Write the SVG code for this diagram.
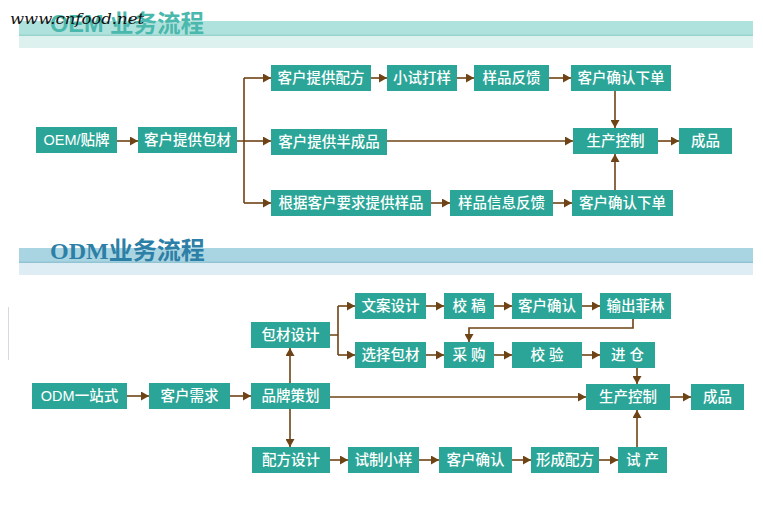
<svg xmlns="http://www.w3.org/2000/svg" width="763" height="506" viewBox="0 0 763 506">
<defs>
<marker id="ah" markerWidth="9" markerHeight="9" refX="8" refY="4.5" orient="auto" markerUnits="userSpaceOnUse">
<path d="M0,0 L8,4.5 L0,9 Z" fill="#6e4315"/>
</marker>
<style>
.n rect{fill:#2ba597;}
.n text{fill:#fff;font-family:"Liberation Sans","Noto Sans CJK SC",sans-serif;font-size:14.5px;font-weight:500;text-anchor:middle;}
.c path{fill:none;stroke:#6e4315;stroke-width:1.6;}
.a{marker-end:url(#ah);}
</style>
</defs>
<rect width="763" height="506" fill="#fff"/>
<line x1="8.5" y1="307" x2="8.5" y2="360" stroke="#d8d8e0" stroke-width="1"/>
<g id="header-oem">
<rect x="19" y="21" width="734" height="14" fill="#b0e2dd"/>
<rect x="19" y="34.5" width="734" height="1.5" fill="#98d3cc"/>
<rect x="19" y="36" width="734" height="12" fill="#ddf2ef"/>
<text x="50" y="32" font-family="Liberation Sans,'Noto Sans CJK SC',sans-serif" font-weight="bold" font-size="23.5" fill="#4bb8ad">OEM 业务流程</text>
<text x="10" y="24" font-family="DejaVu Serif,serif" font-style="italic" font-size="14" fill="#111" textLength="134" lengthAdjust="spacingAndGlyphs">www.cnfood.net</text>
</g>
<g id="header-odm">
<rect x="19" y="248" width="734" height="14" fill="#a9d4e1"/>
<rect x="19" y="261.5" width="734" height="1.5" fill="#93c4d4"/>
<rect x="19" y="263" width="734" height="12" fill="#deedf3"/>
<text x="50" y="259" font-family="Liberation Serif,'Noto Sans CJK SC',serif" font-weight="bold" font-size="24" fill="#2c7fa6">ODM业务流程</text>
</g>
<g class="c" id="connectors">
<path class="a" d="M116,141 H138"/>
<path d="M237,141 H244 M244,78 V203"/>
<path class="a" d="M244,78 H271"/>
<path class="a" d="M244,141 H271"/>
<path class="a" d="M244,203 H271"/>
<path class="a" d="M371,78 H387"/>
<path class="a" d="M457,78 H474"/>
<path class="a" d="M549,78 H571"/>
<path class="a" d="M615,91 V128"/>
<path class="a" d="M387,141 H573"/>
<path class="a" d="M658,141 H679"/>
<path class="a" d="M431,203 H450"/>
<path class="a" d="M553,203 H572"/>
<path class="a" d="M615,190 V154"/>
<path class="a" d="M127,396 H149"/>
<path class="a" d="M230,396 H251"/>
<path class="a" d="M290,383 V348"/>
<path class="a" d="M290,409 V447"/>
<path d="M330,335 H338 M338,306 V355"/>
<path class="a" d="M338,306 H355"/>
<path class="a" d="M338,355 H355"/>
<path class="a" d="M426,306 H444"/>
<path class="a" d="M494,306 H512"/>
<path class="a" d="M582,306 H600"/>
<path class="a" d="M633,319 V328 H469 V342"/>
<path class="a" d="M426,355 H444"/>
<path class="a" d="M494,355 H512"/>
<path class="a" d="M582,355 H600"/>
<path class="a" d="M637,368 V384"/>
<path class="a" d="M330,397 H586"/>
<path class="a" d="M670,397 H691"/>
<path class="a" d="M330,460 H348"/>
<path class="a" d="M419,460 H439"/>
<path class="a" d="M512,460 H531"/>
<path class="a" d="M599,460 H618"/>
<path class="a" d="M637,447 V410"/>
</g>
<g class="n" id="oem-tiepai"><rect x="36" y="127" width="81" height="26"/><text x="76.5" y="145">OEM/贴牌</text></g>
<g class="n" id="oem-baocai"><rect x="138" y="127" width="99" height="26"/><text x="187.5" y="145">客户提供包材</text></g>
<g class="n" id="oem-peifang"><rect x="271" y="65" width="100" height="26"/><text x="321" y="83">客户提供配方</text></g>
<g class="n" id="oem-banchengpin"><rect x="271" y="129" width="116" height="26"/><text x="329" y="147">客户提供半成品</text></g>
<g class="n" id="oem-yangpin"><rect x="271" y="190" width="160" height="26"/><text x="351" y="208">根据客户要求提供样品</text></g>
<g class="n" id="oem-xiaoshi"><rect x="387" y="65" width="70" height="26"/><text x="422" y="83">小试打样</text></g>
<g class="n" id="oem-fankui"><rect x="474" y="65" width="75" height="26"/><text x="511.5" y="83">样品反馈</text></g>
<g class="n" id="oem-queren1"><rect x="571" y="65" width="100" height="26"/><text x="621" y="83">客户确认下单</text></g>
<g class="n" id="oem-shengchan"><rect x="573" y="128" width="85" height="26"/><text x="615.5" y="146">生产控制</text></g>
<g class="n" id="oem-chengpin"><rect x="679" y="128" width="53" height="26"/><text x="705.5" y="146">成品</text></g>
<g class="n" id="oem-xinxi"><rect x="450" y="190" width="103" height="26"/><text x="501.5" y="208">样品信息反馈</text></g>
<g class="n" id="oem-queren2"><rect x="572" y="190" width="101" height="26"/><text x="622.5" y="208">客户确认下单</text></g>
<g class="n" id="odm-start"><rect x="32" y="383" width="95" height="26"/><text x="79.5" y="401">ODM一站式</text></g>
<g class="n" id="odm-xuqiu"><rect x="149" y="383" width="81" height="26"/><text x="189.5" y="401">客户需求</text></g>
<g class="n" id="odm-cehua"><rect x="251" y="383" width="79" height="26"/><text x="290.5" y="401">品牌策划</text></g>
<g class="n" id="odm-baocai"><rect x="251" y="322" width="79" height="26"/><text x="290.5" y="340">包材设计</text></g>
<g class="n" id="odm-peifang"><rect x="252" y="447" width="78" height="26"/><text x="291" y="465">配方设计</text></g>
<g class="n" id="odm-wenan"><rect x="355" y="293" width="71" height="26"/><text x="390.5" y="311">文案设计</text></g>
<g class="n" id="odm-xuanze"><rect x="355" y="342" width="71" height="26"/><text x="390.5" y="360">选择包材</text></g>
<g class="n" id="odm-jiaogao"><rect x="444" y="293" width="50" height="26"/><text x="469" y="311">校 稿</text></g>
<g class="n" id="odm-queren1"><rect x="512" y="293" width="70" height="26"/><text x="547" y="311">客户确认</text></g>
<g class="n" id="odm-feilin"><rect x="600" y="293" width="71" height="26"/><text x="635.5" y="311">输出菲林</text></g>
<g class="n" id="odm-caigou"><rect x="444" y="342" width="50" height="26"/><text x="469" y="360">采 购</text></g>
<g class="n" id="odm-jiaoyan"><rect x="512" y="342" width="70" height="26"/><text x="547" y="360">校 验</text></g>
<g class="n" id="odm-jincang"><rect x="600" y="342" width="55" height="26"/><text x="627.5" y="360">进 仓</text></g>
<g class="n" id="odm-shengchan"><rect x="586" y="384" width="84" height="26"/><text x="628" y="402">生产控制</text></g>
<g class="n" id="odm-chengpin"><rect x="691" y="384" width="53" height="26"/><text x="717.5" y="402">成品</text></g>
<g class="n" id="odm-shizhi"><rect x="348" y="447" width="71" height="26"/><text x="383.5" y="465">试制小样</text></g>
<g class="n" id="odm-queren2"><rect x="439" y="447" width="73" height="26"/><text x="475.5" y="465">客户确认</text></g>
<g class="n" id="odm-xingcheng"><rect x="531" y="447" width="68" height="26"/><text x="565" y="465">形成配方</text></g>
<g class="n" id="odm-shichan"><rect x="618" y="447" width="49" height="26"/><text x="642.5" y="465">试 产</text></g>
</svg>
